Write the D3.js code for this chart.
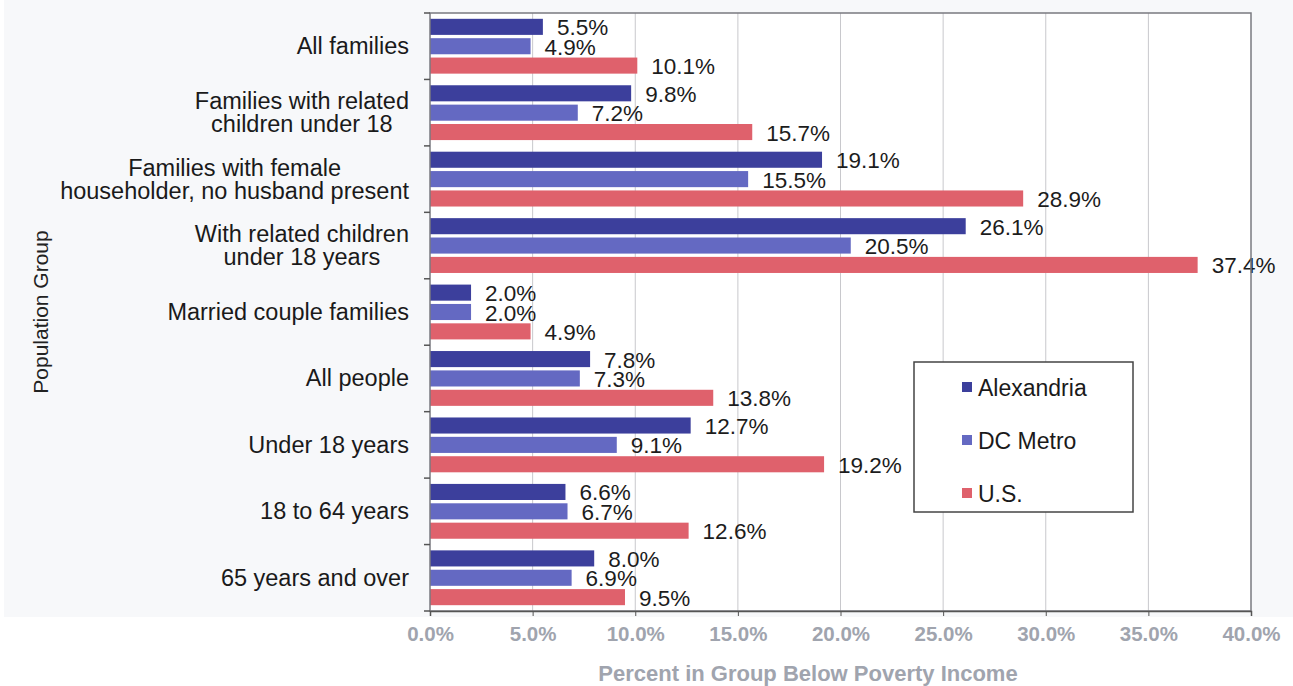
<!DOCTYPE html>
<html>
<head>
<meta charset="utf-8">
<script src="https://cdn.jsdelivr.net/npm/d3@7"></script>
<style>
  body { margin: 0; background: #fff; }
  text { font-family: Arial, "Liberation Sans", sans-serif; }
</style>
</head>
<body>
<div id="chart"></div>
<script>
// Poverty rates by population group

const width = 1293;
const height = 686;

const groups = [
  ["All families"],
  ["Families with related", "children under 18"],
  ["Families with female", "householder, no husband present"],
  ["With related children", "under 18 years"],
  ["Married couple families"],
  ["All people"],
  ["Under 18 years"],
  ["18 to 64 years"],
  ["65 years and over"]
];
const series = ["Alexandria", "DC Metro", "U.S."];
const alexandria = [5.5, 9.8, 19.1, 26.1, 2.0, 7.8, 12.7, 6.6, 8.0];
const dcMetro = [4.9, 7.2, 15.5, 20.5, 2.0, 7.3, 9.1, 6.7, 6.9];
const us = [10.1, 15.7, 28.9, 37.4, 4.9, 13.8, 19.2, 12.6, 9.5];
const xTicks = [0, 5, 10, 15, 20, 25, 30, 35, 40];

const values = [alexandria, dcMetro, us];
const colors = ["#3c3f9c", "#6469c2", "#df616c"];

const margin = { top: 13, right: 42, bottom: 75, left: 430 };

const svg = d3.select("#chart")
  .append("svg")
  .attr("width", width)
  .attr("height", height);

// fond gris très clair de la zone du graphique
svg.append("rect")
  .attr("x", 4).attr("y", 0)
  .attr("width", width - 4).attr("height", 617)
  .attr("fill", "#f7f8fa");

const x = d3.scaleLinear()
  .domain([0, 40])
  .range([margin.left, width - margin.right]);

const y = d3.scaleBand()
  .domain(d3.range(groups.length))
  .range([margin.top, height - margin.bottom])
  .padding(0);

const ySub = d3.scaleBand()
  .domain(d3.range(series.length))
  .range([0, y.bandwidth()])
  .paddingInner(0.17)
  .paddingOuter(0.3);

// zone de tracé
svg.append("rect")
  .attr("x", x(0)).attr("y", margin.top)
  .attr("width", x(40) - x(0)).attr("height", height - margin.bottom - margin.top)
  .attr("fill", "#fff");

// grille verticale
svg.append("g")
  .selectAll("line")
  .data(xTicks.slice(1, -1))
  .enter().append("line")
  .attr("x1", d => x(d)).attr("x2", d => x(d))
  .attr("y1", margin.top).attr("y2", height - margin.bottom)
  .attr("stroke", "#c8c8cc")
  .attr("stroke-width", 1);

// barres
const bars = svg.append("g");
values.forEach((vals, s) => {
  bars.append("g")
    .selectAll("rect")
    .data(vals)
    .enter().append("rect")
    .attr("x", x(0))
    .attr("y", (d, i) => y(i) + ySub(s))
    .attr("width", d => x(d) - x(0))
    .attr("height", ySub.bandwidth())
    .attr("fill", colors[s]);

  bars.append("g")
    .selectAll("text")
    .data(vals)
    .enter().append("text")
    .attr("x", d => x(d) + 14)
    .attr("y", (d, i) => y(i) + ySub(s) + ySub.bandwidth() / 2 + 1)
    .attr("dominant-baseline", "central")
    .attr("font-size", 22.5)
    .attr("fill", "#1c1c1c")
    .text(d => d.toFixed(1) + "%");
});

// cadre
svg.append("rect")
  .attr("x", x(0)).attr("y", margin.top)
  .attr("width", x(40) - x(0)).attr("height", height - margin.bottom - margin.top)
  .attr("fill", "none")
  .attr("stroke", "#7a7a80")
  .attr("stroke-width", 1.5);

// axe X
const xAxis = svg.append("g")
  .attr("transform", `translate(0,${height - margin.bottom})`)
  .call(d3.axisBottom(x).tickValues(xTicks).tickSize(5).tickPadding(10)
    .tickFormat(d => d.toFixed(1) + "%"));
xAxis.select(".domain").attr("stroke", "#555").attr("stroke-width", 1.5);
xAxis.selectAll(".tick line").attr("stroke", "#555");
xAxis.selectAll("text")
  .attr("font-size", 20.5)
  .attr("font-weight", "bold")
  .attr("fill", "#a0a4ae")
  .style("font-family", "Arial, 'Liberation Sans', sans-serif");

// axe Y : graduations aux limites des groupes
svg.append("g")
  .selectAll("line")
  .data(d3.range(groups.length + 1))
  .enter().append("line")
  .attr("x1", x(0) - 6).attr("x2", x(0))
  .attr("y1", i => margin.top + i * y.step())
  .attr("y2", i => margin.top + i * y.step())
  .attr("stroke", "#555")
  .attr("stroke-width", 1.5);

// étiquettes de catégorie (centrées, alignées à droite en bloc)
const labelRight = x(0) - 21;
const lineH = 23;
groups.forEach((lines, i) => {
  const g = svg.append("g");
  const texts = lines.map((t, k) => g.append("text")
    .attr("y", y(i) + y.bandwidth() / 2 + (k - (lines.length - 1) / 2) * lineH)
    .attr("dominant-baseline", "central")
    .attr("text-anchor", "middle")
    .attr("font-size", 23.5)
    .attr("fill", "#1a1a1a")
    .text(t));
  const maxW = d3.max(texts, t => t.node().getComputedTextLength());
  texts.forEach(t => t.attr("x", labelRight - maxW / 2));
});

// titres des axes
svg.append("text")
  .attr("transform", "translate(40,312) rotate(-90)")
  .attr("text-anchor", "middle")
  .attr("dominant-baseline", "central")
  .attr("font-size", 21)
  .attr("fill", "#222")
  .text("Population Group");

svg.append("text")
  .attr("x", 808)
  .attr("y", 673)
  .attr("text-anchor", "middle")
  .attr("dominant-baseline", "central")
  .attr("font-size", 22)
  .attr("font-weight", "bold")
  .attr("fill", "#a0a4ae")
  .text("Percent in Group Below Poverty Income");

// légende
const legend = svg.append("g").attr("transform", "translate(914,362)");
legend.append("rect")
  .attr("width", 219).attr("height", 150)
  .attr("fill", "#fff")
  .attr("stroke", "#444")
  .attr("stroke-width", 1.5);
series.forEach((name, s) => {
  const ly = 25 + s * 53;
  legend.append("rect")
    .attr("x", 48).attr("y", ly - 5)
    .attr("width", 10).attr("height", 10)
    .attr("fill", colors[s]);
  legend.append("text")
    .attr("x", 64).attr("y", ly + 1)
    .attr("dominant-baseline", "central")
    .attr("font-size", 23)
    .attr("fill", "#1a1a1a")
    .text(name);
});
</script>
</body>
</html>
